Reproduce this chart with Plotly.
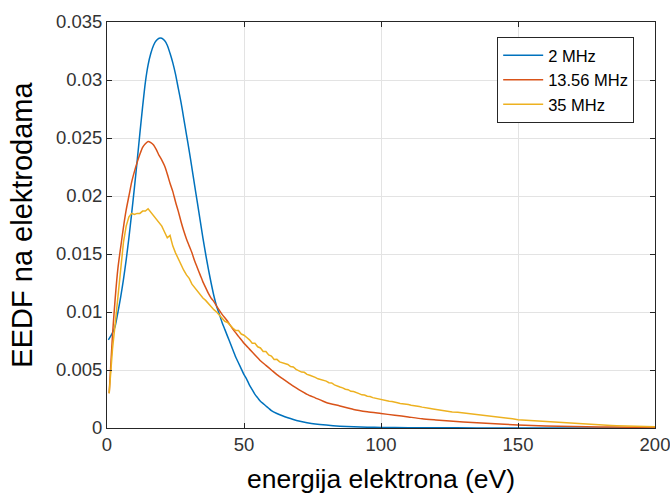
import plotly.graph_objects as go

# ---------------- data ----------------
series_names = ["2 MHz", "13.56 MHz", "35 MHz"]

x_2mhz = [0.5, 2, 3, 4, 5, 6, 7, 8, 9, 10, 11, 12, 13, 14, 15, 16, 17, 18, 19, 20,
          21, 22, 23, 24, 25, 26, 27, 28, 29, 30, 31, 32, 33, 34, 35, 36, 37, 38, 39, 40,
          41, 42, 43, 44, 45, 46, 47, 48, 49, 50, 51, 52, 53, 54, 55, 56, 57, 58, 59, 60,
          62, 64, 66, 68, 70, 73, 76, 80, 85, 90, 95, 100, 110, 120, 135, 150, 175, 200]
y_2mhz = [0.0076, 0.0082, 0.0088, 0.0100, 0.0113, 0.0128, 0.0145, 0.0164, 0.0185, 0.0207,
          0.0230, 0.0254, 0.0277, 0.0298, 0.0313, 0.0323, 0.0330, 0.0334, 0.0336, 0.0336,
          0.0334, 0.0330, 0.0323, 0.0315, 0.0305, 0.0293, 0.0281, 0.0267, 0.0253, 0.0239,
          0.0224, 0.0209, 0.0194, 0.0179, 0.0164, 0.0150, 0.0137, 0.0125, 0.0114, 0.0105,
          0.0098, 0.0091, 0.0085, 0.0079, 0.0073, 0.0067, 0.0061, 0.0056, 0.0051, 0.0046,
          0.0042, 0.0037, 0.0033, 0.0029, 0.0026, 0.0023, 0.0021, 0.0019, 0.0017, 0.0015,
          0.00125, 0.00105, 0.00088, 0.00073, 0.00060, 0.00046, 0.00035, 0.00025, 0.00016,
          0.00010, 0.00007, 0.00005, 0.00003, 0.00002, 0.00001, 0.0, 0.0, 0.0]

x_1356mhz = [0.8, 2, 3, 4, 5, 6, 7, 8, 9, 10, 11, 12, 13, 14, 15, 16, 17, 18, 19, 20,
             21, 22, 23, 24, 25, 26, 27, 28, 29, 30, 31, 32, 33, 34, 35, 36, 37, 38, 39, 40,
             42, 44, 46, 48, 50, 52, 54, 56, 58, 60, 62, 65, 68, 70, 73, 76, 80, 85, 90, 95,
             100, 105, 110, 115, 120, 130, 140, 150, 160, 170, 180, 190, 200]
y_1356mhz = [0.0030, 0.0080, 0.0112, 0.0138, 0.0156, 0.0173, 0.0188, 0.0200, 0.0212, 0.0221,
             0.0229, 0.0236, 0.0242, 0.0245, 0.0247, 0.0246, 0.0244, 0.0240, 0.0235, 0.0231,
             0.0226, 0.0219, 0.0211, 0.0204, 0.0195, 0.0187, 0.0178, 0.0170, 0.0163, 0.0157,
             0.0151, 0.0144, 0.0138, 0.0132, 0.0126, 0.0121, 0.0116, 0.0112, 0.0109, 0.0105,
             0.0098, 0.0092, 0.0085, 0.0079, 0.0073, 0.0068, 0.0063, 0.0058, 0.0054, 0.0050,
             0.0046, 0.0041, 0.0036, 0.0033, 0.0029, 0.0026, 0.0022, 0.0019, 0.0016, 0.0014,
             0.00125, 0.0011, 0.00095, 0.0008, 0.0007, 0.00052, 0.00038, 0.00026, 0.00018,
             0.00012, 0.00009, 0.00007, 0.00005]

x_35mhz = [0.8, 2, 3, 4, 5, 6, 7, 8, 9, 10, 11, 12, 13, 14, 15, 16, 17, 18, 19, 20,
           21, 22, 23, 24, 25, 26, 27, 28, 29, 30, 31, 32, 33, 34, 35, 36, 37, 38, 39, 40,
           41, 42, 43, 44, 45, 46, 47, 48, 49, 50, 51, 52, 53, 54, 55, 56, 57, 58, 59, 60,
           61, 62, 63, 64, 65, 66, 67, 68, 69, 70, 71, 72, 73, 74, 75, 76, 77, 78, 79, 80,
           81, 82, 83, 84, 85, 86, 87, 88, 89, 90, 91, 92, 93, 94, 95, 96, 97, 98, 99, 100,
           101, 102, 103, 104, 105, 106, 107, 108, 109, 110, 111, 112, 113, 114, 115, 116,
           117, 118, 119, 120, 122, 124, 126, 128, 130, 132, 134, 136, 138, 140, 142, 144,
           146, 148, 150, 152, 154, 156, 158, 160, 162, 164, 166, 168, 170, 172, 174, 176,
           178, 180, 182, 184, 186, 188, 190, 192, 194, 196, 198, 200]
y_35mhz = [0.0030, 0.0068, 0.0090, 0.0112, 0.0138, 0.0160, 0.0174, 0.0182, 0.0185, 0.0184,
           0.0185, 0.0185, 0.0187, 0.0187, 0.0189, 0.0186, 0.0182, 0.0180, 0.0176, 0.0174,
           0.0169, 0.0164, 0.0166, 0.0157, 0.0151, 0.0146, 0.0140, 0.0136, 0.0132, 0.0129,
           0.0124, 0.0121, 0.0117, 0.0115, 0.0112, 0.0110, 0.0107, 0.0105, 0.0102, 0.0100,
           0.0097, 0.0095, 0.0092, 0.0091, 0.0088, 0.0086, 0.0084, 0.0084, 0.0081, 0.0080,
           0.0078, 0.0076, 0.0073, 0.0073, 0.0070, 0.0069, 0.0066, 0.0066, 0.0063, 0.0062,
           0.00590, 0.00592, 0.00570, 0.00562, 0.00552, 0.00548, 0.00530, 0.00526, 0.00505,
           0.00494, 0.00482, 0.00480, 0.00462, 0.00455, 0.00442, 0.00436, 0.00424, 0.00418,
           0.00408, 0.00404, 0.00390, 0.00388, 0.00372, 0.00366, 0.00354, 0.00346, 0.00334,
           0.00330, 0.00316, 0.00314, 0.00302, 0.00296, 0.00286, 0.00284, 0.00274, 0.00272,
           0.00262, 0.00256, 0.00248, 0.00244, 0.00238, 0.00236, 0.00230, 0.00228, 0.00220,
           0.00218, 0.00212, 0.00210, 0.00204, 0.00202, 0.00196, 0.00194, 0.00188, 0.00186,
           0.00180, 0.00178, 0.00172, 0.00168, 0.00164, 0.00160, 0.00152, 0.00146, 0.00138,
           0.00135, 0.00130, 0.00123, 0.00116, 0.00112, 0.00105, 0.00101, 0.00096, 0.00092,
           0.00086, 0.00079, 0.00071, 0.00068, 0.00063, 0.00059, 0.00055, 0.00051, 0.00048,
           0.00046, 0.00044, 0.00042, 0.00040, 0.00037, 0.00034, 0.00031, 0.00029, 0.00027,
           0.00024, 0.00021, 0.00019, 0.00017, 0.00016, 0.00014, 0.00013, 0.00012, 0.00011,
           0.00010]

x_tick_vals = [0, 50, 100, 150, 200]
x_tick_text = ["0", "50", "100", "150", "200"]
y_tick_vals = [0, 0.005, 0.01, 0.015, 0.02, 0.025, 0.03, 0.035]
y_tick_text = ["0", "0.005", "0.01", "0.015", "0.02", "0.025", "0.03", "0.035"]

x_title = "energija elektrona (eV)"
y_title = "EEDF na elektrodama"

colors = ["#0072BD", "#D95319", "#EDB120"]
shapes = ["spline", "spline", "linear"]

# ---------------- figure ----------------
fig = go.Figure()
for name, xs, ys, c, shp in zip(series_names,
                                [x_2mhz, x_1356mhz, x_35mhz],
                                [y_2mhz, y_1356mhz, y_35mhz],
                                colors, shapes):
    line = dict(color=c, width=1.5, shape=shp)
    if shp == "spline":
        line["smoothing"] = 0.6
    fig.add_trace(go.Scatter(x=xs, y=ys, mode="lines", name=name, line=line))

axis_common = dict(
    showline=True, linecolor="#262626", linewidth=1, mirror="ticks",
    ticks="inside", ticklen=5, tickcolor="#262626", tickwidth=1,
    showgrid=True, gridcolor="#e3e3e3", gridwidth=1, zeroline=False,
    automargin=False, ticklabeloverflow="allow",
    tickfont=dict(family="Liberation Sans, Arial, sans-serif", size=18.5, color="#333333"),
)

fig.update_layout(
    width=670, height=496,
    margin=dict(l=107, r=15, t=22, b=68),
    paper_bgcolor="white", plot_bgcolor="white",
    font=dict(family="Liberation Sans, Arial, sans-serif"),
    xaxis=dict(range=[0, 200], tickvals=x_tick_vals, ticktext=x_tick_text,
               title=dict(text=x_title, font=dict(size=26.5, color="#000000"), standoff=15),
               **axis_common),
    yaxis=dict(range=[0, 0.035], tickvals=y_tick_vals, ticktext=y_tick_text,
               title=dict(text=y_title, font=dict(size=29, color="#000000"), standoff=14),
               **axis_common),
    legend=dict(x=0.712, y=0.963, xanchor="left", yanchor="top",
                bgcolor="white", bordercolor="#262626", borderwidth=1,
                font=dict(size=16.5, color="#000000"), itemwidth=40,
                tracegroupgap=0),
    showlegend=True,
)

fig.write_html("out.html", config={"displayModeBar": False},
               post_script="document.body.style.margin='0';document.body.style.overflow='hidden';")
